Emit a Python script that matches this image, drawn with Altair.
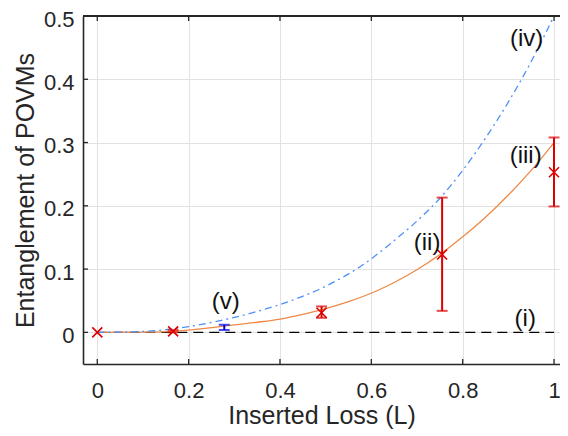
import altair as alt
import pandas as pd

W = 477
H = 348

# curve (iv): blue dash-dot
iv_L = [0.0, 0.1, 0.2, 0.278, 0.35, 0.4, 0.5, 0.58, 0.65, 0.7, 0.754, 0.8, 0.85, 0.9, 0.95, 1.0]
iv_E = [0.0, 0.0015, 0.009, 0.020, 0.033, 0.044, 0.073, 0.106, 0.145, 0.176, 0.215, 0.256, 0.307, 0.364, 0.428, 0.5]
# curve (iii): orange solid
iii_L = [0.0, 0.1, 0.166, 0.278, 0.351, 0.4, 0.45, 0.49, 0.55, 0.61, 0.653, 0.7, 0.754, 0.8, 0.847, 0.9, 0.95, 1.0]
iii_E = [0.0, 0.0004, 0.0016, 0.010, 0.016, 0.021, 0.0285, 0.0355, 0.0485, 0.065, 0.080, 0.099, 0.125, 0.151, 0.180, 0.217, 0.256, 0.300]
# curve (i): black dashed
i_L = [0.0, 1.0]
i_E = [0.0, 0.0]

# measured points (red crosses)
pts_L = [0.0, 0.166, 0.491, 0.755, 1.0]
pts_E = [0.0, 0.0015, 0.031, 0.123, 0.253]
# red error bars
err_L = [0.166, 0.491, 0.755, 1.0]
err_lo = [0.0, 0.023, 0.034, 0.199]
err_hi = [0.0035, 0.041, 0.213, 0.308]
# blue error bar (v)
v_L = [0.278]
v_lo = [0.0037]
v_hi = [0.012]

label_text = ["(i)", "(ii)", "(iii)", "(iv)", "(v)"]
label_L = [0.937, 0.722, 0.938, 0.94, 0.281]
label_E = [0.0216, 0.141, 0.279, 0.464, 0.0485]

xticks = [0, 0.2, 0.4, 0.6, 0.8, 1]
yticks = [0, 0.1, 0.2, 0.3, 0.4, 0.5]

FONT = "Liberation Sans"
AX = "#262626"

xs = alt.Scale(domain=[-0.0313, 1.0131], nice=False, zero=False)
ys = alt.Scale(domain=[-0.05, 0.5], nice=False, zero=False)

xaxis = alt.Axis(values=xticks, format="~g", title="Inserted Loss (L)",
                 labelPadding=16, titleY=51, titleBaseline="middle")
yaxis = alt.Axis(values=yticks, format="~g", title="Entanglement of POVMs",
                 labelPadding=9, labelOffset=3, titleX=-58, titleBaseline="middle")


def X(f):
    return alt.X(f, type="quantitative", scale=xs, axis=xaxis)


def Y(f):
    return alt.Y(f, type="quantitative", scale=ys, axis=yaxis)


df_i = pd.DataFrame({"L": i_L, "E": i_E})
df_iii = pd.DataFrame({"L": iii_L, "E": iii_E})
df_iv = pd.DataFrame({"L": iv_L, "E": iv_E})
df_pts = pd.DataFrame({"L": pts_L, "E": pts_E})
df_err = pd.DataFrame({"L": err_L, "lo": err_lo, "hi": err_hi})
df_v = pd.DataFrame({"L": v_L, "lo": v_lo, "hi": v_hi})
df_lab = pd.DataFrame({"L": label_L, "E": label_E, "t": label_text})
df_xt = pd.DataFrame({"L": xticks})
df_yt = pd.DataFrame({"E": yticks})

line_i = alt.Chart(df_i).mark_line(color="#000000", strokeWidth=1.2, strokeDash=[10, 6]).encode(x=X("L"), y=Y("E"))
line_iii = alt.Chart(df_iii).mark_line(color="#ed8946", strokeWidth=1.3, interpolate="monotone").encode(x=X("L"), y=Y("E"))
line_iv = alt.Chart(df_iv).mark_line(color="#4d8ffa", strokeWidth=1.3, strokeDash=[7, 4, 2, 4], interpolate="monotone").encode(x=X("L"), y=Y("E"))

RED = "#dc0000"
BLUE = "#0000e6"
err_rule = alt.Chart(df_err).mark_rule(color=RED, strokeWidth=2).encode(x=X("L"), y=Y("lo"), y2="hi")
err_cap_lo = alt.Chart(df_err).mark_tick(color=RED, orient="horizontal", size=11, thickness=2).encode(x=X("L"), y=Y("lo"))
err_cap_hi = alt.Chart(df_err).mark_tick(color=RED, orient="horizontal", size=11, thickness=2).encode(x=X("L"), y=Y("hi"))
v_rule = alt.Chart(df_v).mark_rule(color=BLUE, strokeWidth=2).encode(x=X("L"), y=Y("lo"), y2="hi")
v_cap_lo = alt.Chart(df_v).mark_tick(color=BLUE, orient="horizontal", size=11, thickness=2).encode(x=X("L"), y=Y("lo"))
v_cap_hi = alt.Chart(df_v).mark_tick(color=BLUE, orient="horizontal", size=11, thickness=2).encode(x=X("L"), y=Y("hi"))

pts = alt.Chart(df_pts).mark_point(shape="M-1,-1L1,1M-1,1L1,-1", size=100, filled=False,
                                   color=RED, strokeWidth=1.6, opacity=1).encode(x=X("L"), y=Y("E"))

labels = alt.Chart(df_lab).mark_text(font=FONT, fontSize=24, color="#111111", align="center",
                                     baseline="middle").encode(x=X("L"), y=Y("E"), text="t:N")

tick_b = alt.Chart(df_xt).mark_rule(color=AX, strokeWidth=1.3).encode(x=X("L"), y=alt.value(H), y2=alt.value(H - 5))
tick_t = alt.Chart(df_xt).mark_rule(color=AX, strokeWidth=1.3).encode(x=X("L"), y=alt.value(0), y2=alt.value(5))
tick_l = alt.Chart(df_yt).mark_rule(color=AX, strokeWidth=1.3).encode(y=Y("E"), x=alt.value(0), x2=alt.value(5))
top_border = alt.Chart(df_xt).mark_rule(color=AX, strokeWidth=1.6).encode(x=alt.value(0), x2=alt.value(W), y=alt.value(0))

chart = alt.layer(
    line_i, line_iii, line_iv,
    err_rule, err_cap_lo, err_cap_hi,
    v_rule, v_cap_lo, v_cap_hi,
    pts, labels,
    tick_b, tick_t, tick_l, top_border,
).properties(
    width=W, height=H,
    autosize=alt.AutoSizeParams(type="none"),
    padding={"left": 75, "top": 8, "right": 0, "bottom": 66},
    background="white",
).configure_view(stroke="transparent").configure_axis(
    grid=True, gridColor="#e2e2e2", gridWidth=1, tickSize=0,
    domainColor=AX, domainWidth=1.6,
    labelFont=FONT, labelFontSize=22, labelColor=AX,
    titleFont=FONT, titleFontSize=25, titleColor=AX, titleFontWeight="normal",
)

chart.save("out.html", embed_options={"renderer": "svg", "actions": False})
